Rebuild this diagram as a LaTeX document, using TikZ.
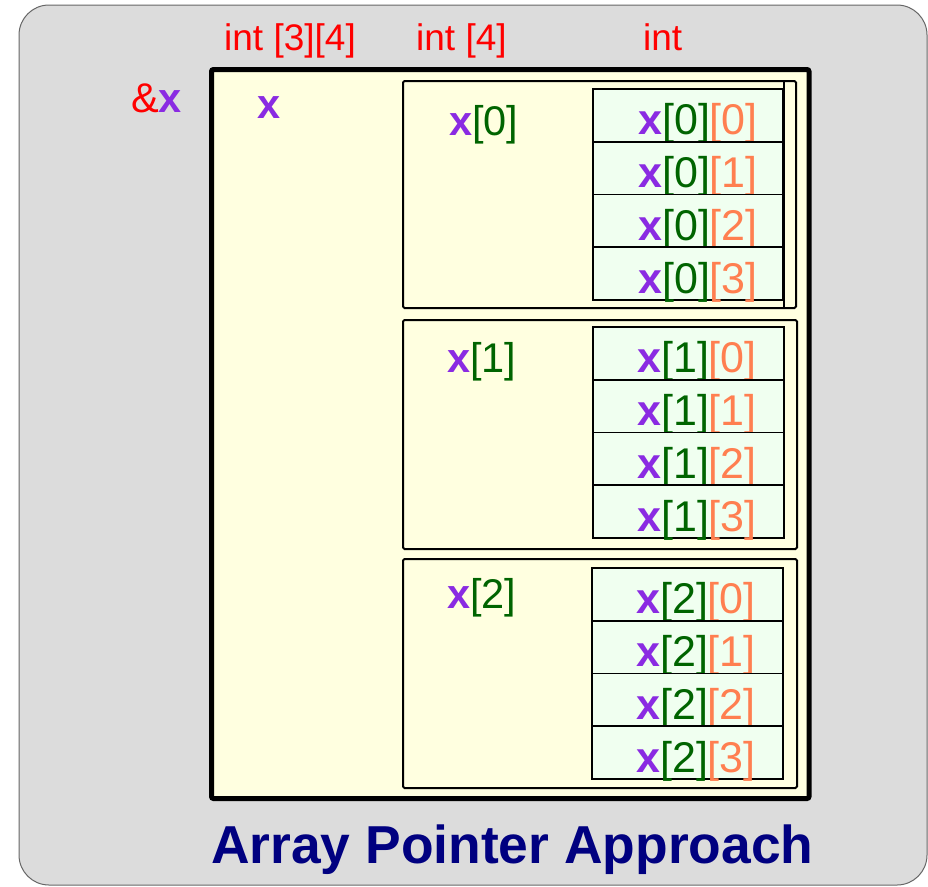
\documentclass[tikz,border=0pt]{standalone}
\usepackage{fontspec}
\setmainfont{Liberation Sans}
\definecolor{bgc}{HTML}{DCDCDC}
\definecolor{ylw}{HTML}{FFFFE0}
\definecolor{cellc}{HTML}{F0FFF0}
\definecolor{purp}{HTML}{8A2BE2}
\definecolor{grn}{HTML}{006400}
\definecolor{orng}{HTML}{FF7F50}
\definecolor{navyc}{HTML}{000080}
\newcommand{\xv}{\textcolor{purp}{\textbf{x}}}
\newcommand{\gi}[1]{\textcolor{grn}{[#1]}}
\newcommand{\oi}[1]{\textcolor{orng}{[#1]}}
\begin{document}
\begin{tikzpicture}[x=1pt,y=-1pt,
  lbl/.style={inner sep=0pt,anchor=base west,font=\fontsize{37}{40}\selectfont,text=red},
  big/.style={inner sep=0pt,anchor=base west,font=\fontsize{41.5}{44}\selectfont},
  celltxt/.style={inner sep=0pt,anchor=base,font=\fontsize{43}{46}\selectfont},
  blockbox/.style={draw=black,line width=2pt,rounded corners=1.5pt},
  cellbox/.style={draw=black,line width=1.6pt,fill=cellc}]
\useasboundingbox (0,0) rectangle (928,886);
\draw[fill=bgc,draw=gray!80!black,line width=1pt,rounded corners=30pt] (19,5) rectangle (927,885);
\draw[fill=ylw,draw=black,line width=5pt,rounded corners=2pt] (211.5,69.5) rectangle (809,798.5);
% labels
\node[lbl] (l1) at (224,50) {int [3][4]};
\node[lbl] (l2) at (416,50) {int [4]};
\node[lbl] (l3) at (643,50) {int};
\node[big] (ax) at (131,112) {\textcolor{red}{\&}\xv};
\node[big] (xx) at (257,118) {\xv};
% blocks
\draw[blockbox] (403,81) rectangle (796,308);
\draw[line width=1.6pt] (784,81) -- (784,308);
\draw[blockbox] (403,320) rectangle (797,549);
\draw[blockbox] (403,559) rectangle (797,788);
\node[big] (b0) at (449,135) {\xv\gi{0}};
\node[big] (b1) at (447,372) {\xv\gi{1}};
\node[big] (b2) at (447,608) {\xv\gi{2}};
% cells
\foreach \b/\top/\bot/\xl/\xr/\cx in {0/89/300/593/783/698, 1/327/538/593/784/697, 2/568/779/592/783/696}{
  \pgfmathsetmacro{\h}{(\bot-\top)/4}
  \foreach \i in {0,1,2,3}{
    \pgfmathsetmacro{\ya}{\top+\i*\h}
    \pgfmathsetmacro{\yb}{\top+(\i+1)*\h}
    \pgfmathsetmacro{\yt}{\yb-7}
    \draw[cellbox] (\xl,\ya) rectangle (\xr,\yb);
    \node[celltxt] (c\b\i) at (\cx,\yt) {\xv\gi{\b}\oi{\i}};
  }
}
\node[inner sep=0pt,anchor=base west,font=\fontsize{53.4}{56}\selectfont\bfseries,text=navyc] (title) at (211,863) {Array Pointer Approach};
\end{tikzpicture}
\end{document}
